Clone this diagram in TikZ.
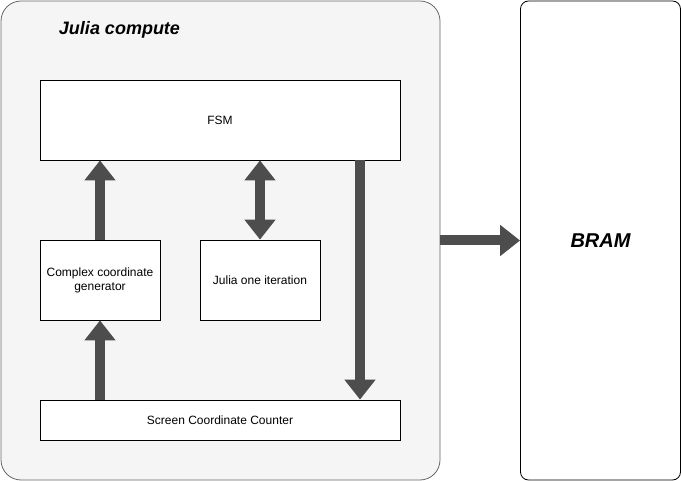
\documentclass[tikz,border=0pt]{standalone}
\usepackage{fontspec}
\setmainfont{Liberation Sans}
\usetikzlibrary{arrows.meta}
\definecolor{contfill}{HTML}{F5F5F5}
\definecolor{contline}{HTML}{666666}
\definecolor{arrowgray}{HTML}{4D4D4D}
\begin{document}
\begin{tikzpicture}[x=1pt,y=-1pt,
  box/.style={draw=black,fill=white,line width=0.8pt,inner sep=0pt,font=\fontsize{12}{14}\selectfont,align=center},
  blockarrow/.style={draw=arrowgray,line width=10pt,-{Triangle[length=20pt,width=30pt]},color=arrowgray},
  blockdouble/.style={draw=arrowgray,line width=10pt,{Triangle[length=20pt,width=30pt]}-{Triangle[length=20pt,width=30pt]},color=arrowgray}]
\useasboundingbox (0,0) rectangle (681,481);
\node[draw=contline,fill=contfill,rounded corners=20pt,line width=0.8pt,minimum width=439pt,minimum height=479pt,inner sep=0pt] (outer) at (220.5,240.5) {};
\node[draw=black,fill=white,rounded corners=8pt,line width=0.8pt,minimum width=160pt,minimum height=479pt,inner sep=0pt] (bram) at (600.5,240.5) {};
\node[font=\fontsize{18}{21}\selectfont\bfseries\itshape] (title) at (119.5,30) {Julia compute};
\node[font=\fontsize{20}{24}\selectfont\bfseries\itshape] (bramlabel) at (600.5,240.5) {BRAM};
\node[box,minimum width=360pt,minimum height=80pt] (fsm) at (220,120) {FSM};
\node[box,minimum width=120pt,minimum height=80pt] (cg) at (100,280) {Complex coordinate\\generator};
\node[box,minimum width=120pt,minimum height=80pt] (jo) at (260,280) {Julia one iteration};
\node[box,minimum width=360pt,minimum height=40pt] (scc) at (220,420) {Screen Coordinate Counter};
\draw[blockarrow] (cg.north) -- (cg.north |- fsm.south);
\draw[blockdouble] (jo.north |- fsm.south) -- (jo.north);
\draw[blockarrow] ([xshift=140pt]fsm.south) -- ([xshift=140pt]fsm.south |- scc.north);
\draw[blockarrow] (cg.south |- scc.north) -- (cg.south);
\draw[blockarrow] (outer.east) -- (bram.west);
\end{tikzpicture}
\end{document}
